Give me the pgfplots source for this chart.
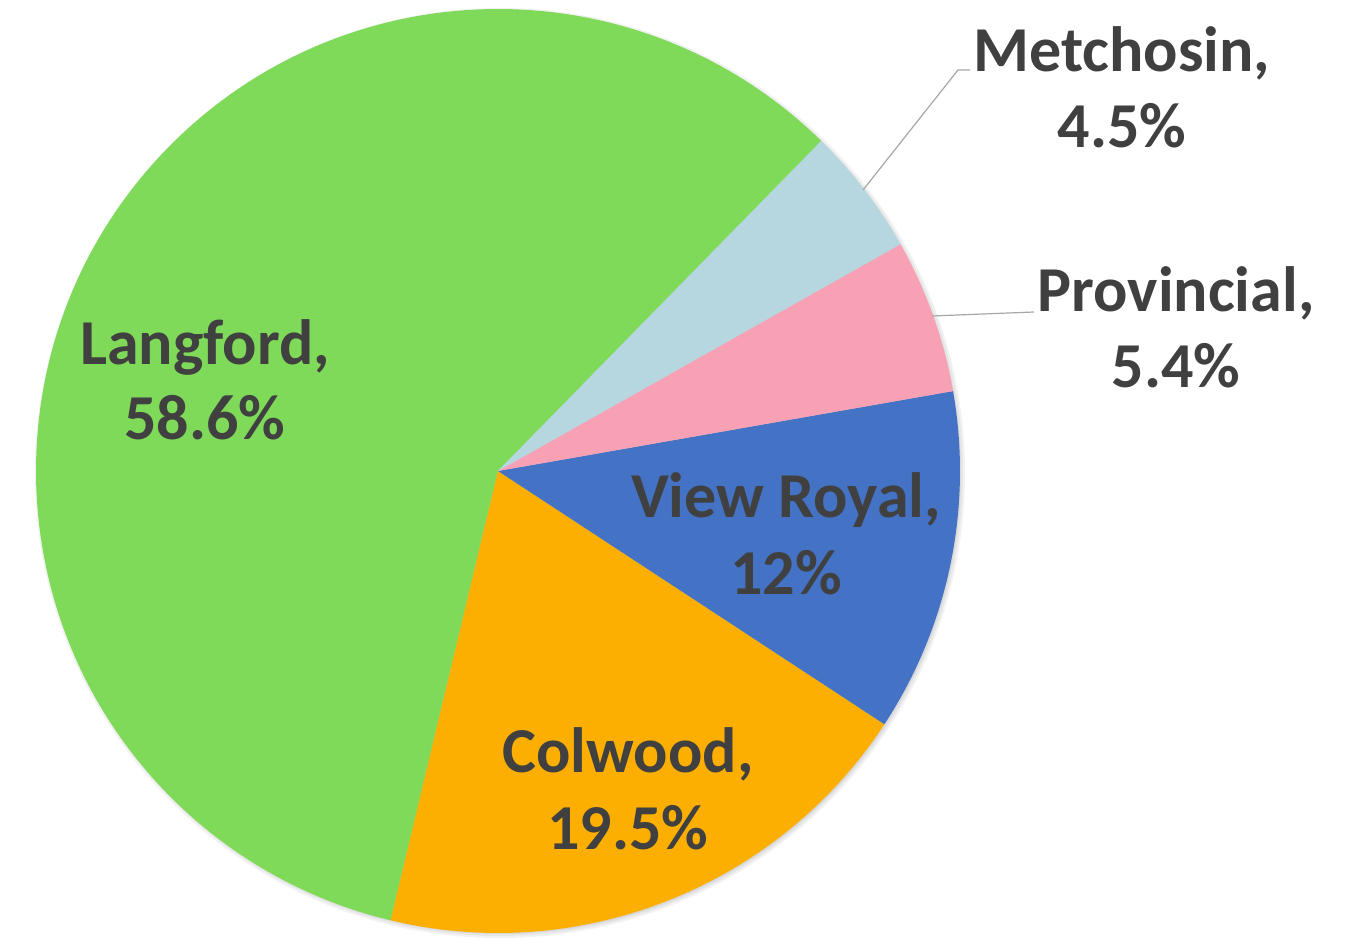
\documentclass[border=0pt]{standalone}
\usepackage{pgfplots}
\usepackage{pgfplotstable}
\pgfplotsset{compat=1.18}
\usepackage{fontspec}
\setmainfont{Carlito}
\definecolor{cLang}{HTML}{7FDA5A}
\definecolor{cCol}{HTML}{FCAF00}
\definecolor{cVR}{HTML}{4472C4}
\definecolor{cProv}{HTML}{F8A1B5}
\definecolor{cMet}{HTML}{B6D7DF}
\definecolor{txt}{HTML}{404040}
\definecolor{lead}{HTML}{A6A6A6}
\pgfplotstableread[col sep=comma]{
name,value,color
Langford,58.6,cLang
Colwood,19.5,cCol
View Royal,12,cVR
Provincial,5.4,cProv
Metchosin,4.5,cMet
}\piedata
\begin{document}
\begin{tikzpicture}
\begin{axis}[
  at={(0pt,0pt)}, anchor=south west,
  width=678.5pt, height=469pt, scale only axis,
  xmin=0, xmax=1357, ymin=0, ymax=938,
  hide axis, clip=false,
]
% soft shadow
\foreach \k/\op in {0/0.05,1/0.05,2/0.06,3/0.07}{
  \edef\temp{\noexpand\fill[black, opacity=\op] (axis cs:500,465) circle[radius=\the\dimexpr 232.5pt-\k pt\relax];}
  \temp
}
\pgfplotstablegetrowsof{\piedata}
\pgfmathtruncatemacro\nrows{\pgfplotsretval-1}
\xdef\startang{45.6}
\foreach \i in {0,...,\nrows}{
  \pgfplotstablegetelem{\i}{value}\of\piedata \let\v\pgfplotsretval
  \pgfplotstablegetelem{\i}{color}\of\piedata \let\c\pgfplotsretval
  \pgfmathsetmacro\endang{\startang+3.6*\v}
  \edef\temp{\noexpand\fill[\c] (axis cs:498,467) -- ++(\startang:231pt) arc[start angle=\startang, end angle=\endang, radius=231pt] -- cycle;}
  \temp
  \xdef\startang{\endang}
}
% leader lines
\draw[lead, line width=0.6pt] (axis cs:863,748) -- (axis cs:958,868) -- (axis cs:970,868);
\draw[lead, line width=0.6pt] (axis cs:932,622) -- (axis cs:1034,626);
% labels
\tikzset{lbl/.style={anchor=base, text=txt, font=\fontsize{32}{38}\selectfont\bfseries, inner sep=0pt}}
\node[lbl] at (axis cs:1122,866) {Metchosin,};
\node[lbl] at (axis cs:1122,790) {4.5\%};
\node[lbl] at (axis cs:1176,626) {Provincial,};
\node[lbl] at (axis cs:1176,550) {5.4\%};
\node[lbl] at (axis cs:205,573) {Langford,};
\node[lbl] at (axis cs:205,498) {58.6\%};
\node[lbl] at (axis cs:786,420) {View Royal,};
\node[lbl] at (axis cs:786,343) {12\%};
\node[lbl] at (axis cs:628,165) {Colwood,};
\node[lbl] at (axis cs:628,88) {19.5\%};
\end{axis}
\pgfresetboundingbox
\useasboundingbox (0pt,0pt) rectangle (678.5pt,469pt);
\end{tikzpicture}
\end{document}
